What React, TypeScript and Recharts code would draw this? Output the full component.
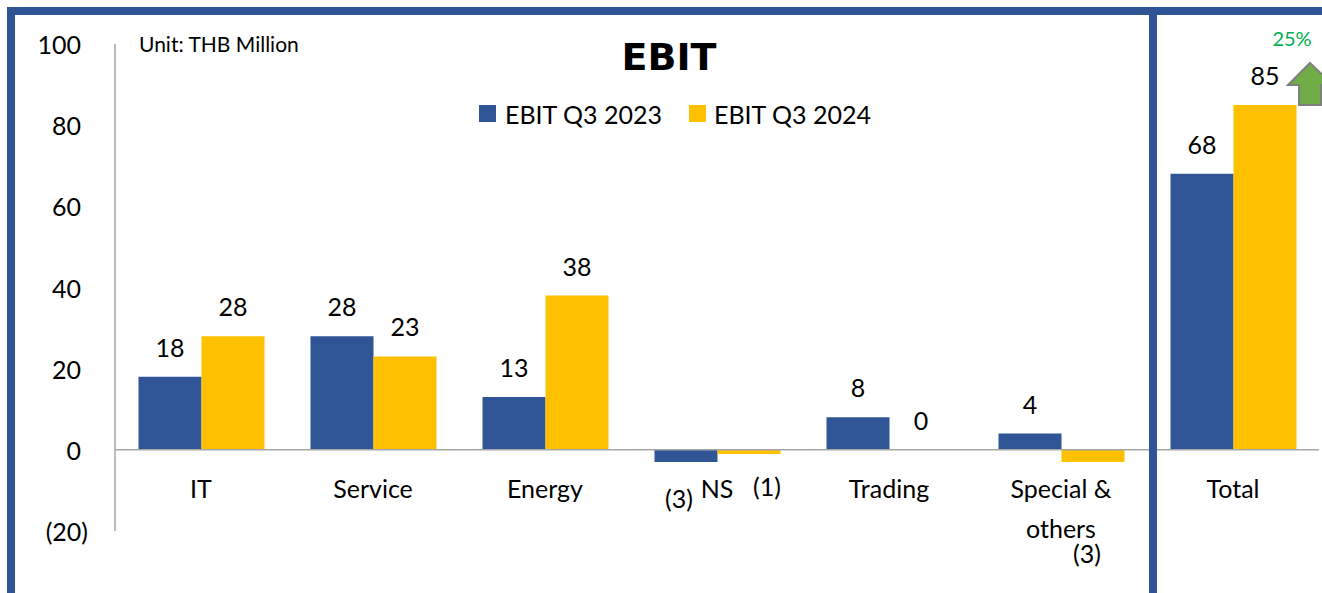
import React from 'react';
import { BarChart, Bar, XAxis, YAxis, LabelList, ReferenceLine } from 'recharts';

const categories = ['IT', 'Service', 'Energy', 'NS', 'Trading', 'Special & others', 'Total'];
const ebitQ32023 = [18, 28, 13, -3, 8, 4, 68];
const ebitQ32024 = [28, 23, 38, -1, 0, -3, 85];
const seriesNames = ['EBIT Q3 2023', 'EBIT Q3 2024'];
const yTicks = [-20, 0, 20, 40, 60, 80, 100];
const growthText = '25%';

const data = categories.map((category, i) => ({
  category,
  q2023: ebitQ32023[i],
  q2024: ebitQ32024[i],
}));

// layout
const W = 1322;
const H = 593;
const PLOT_TOP = 44;
const PLOT_BOTTOM = 531;
const PLOT_LEFT = 115;
const PLOT_RIGHT = 1319;
const Y_MIN = -20;
const Y_MAX = 100;
const ZERO_Y = PLOT_TOP + ((Y_MAX - 0) / (Y_MAX - Y_MIN)) * (PLOT_BOTTOM - PLOT_TOP);
const BAND = (PLOT_RIGHT - PLOT_LEFT) / categories.length;

const BLUE = '#2F5597';
const YELLOW = '#FFC000';
const FRAME = '#2F5597';
const GRID = '#A6A6A6';
const FONT = 'Lato, "Open Sans", sans-serif';

const fmt = (v: number) => (v < 0 ? `(${Math.abs(v)})` : `${v}`);

// hand-placed labels in the original slide
const labelNudge: Record<string, { dx: number; dy: number }> = {
  'q2023|NS': { dx: -7, dy: 36 },
  'q2024|NS': { dx: 18, dy: 32 },
  'q2024|Special & others': { dx: -6, dy: 91 },
};

const makeLabel = (key: string) => (props: any) => {
  const { x, y, width, height, value } = props;
  const top = Math.min(y, y + height);
  const bottom = Math.max(y, y + height);
  const cx = x + width / 2;
  const cat = categories[Math.floor((cx - PLOT_LEFT) / BAND)];
  let tx = cx;
  let ty = top - 30;
  if (value < 0) {
    const n = labelNudge[`${key}|${cat}`] ?? { dx: 0, dy: 32 };
    tx = cx + n.dx;
    ty = bottom + n.dy;
  }
  return (
    <text x={tx} y={ty} textAnchor="middle" dominantBaseline="central" fontFamily={FONT} fontSize={25} fill="#000">
      {fmt(value)}
    </text>
  );
};

const YTick = (props: any) => {
  const { y, payload } = props;
  const v = payload.value;
  return (
    <text x={v < 0 ? 88 : 81} y={y} textAnchor="end" dominantBaseline="central" fontFamily={FONT} fontSize={25} fill="#000">
      {fmt(v)}
    </text>
  );
};

const wrap = (s: string) => {
  const words = s.split(' ');
  const lines: string[] = [];
  let cur = '';
  words.forEach((w) => {
    if (cur && (cur + ' ' + w).length > 10) {
      lines.push(cur);
      cur = w;
    } else {
      cur = cur ? cur + ' ' + w : w;
    }
  });
  if (cur) lines.push(cur);
  return lines;
};

const XTick = (props: any) => {
  const { x, payload } = props;
  const lines = wrap(payload.value);
  return (
    <text x={x} y={ZERO_Y + 38} textAnchor="middle" dominantBaseline="central" fontFamily={FONT} fontSize={25} fill="#000">
      {lines.map((l, i) => (
        <tspan key={i} x={x} dy={i === 0 ? 0 : 40}>
          {l}
        </tspan>
      ))}
    </text>
  );
};

// keep zero-value bars (and their labels) in the chart
const tinyForZero = (v: number) => (v === 0 ? 0.1 : 0);

export default function App() {
  const sepX = PLOT_LEFT + BAND * 6 + 6;
  return (
    <div style={{ position: 'fixed', left: 0, top: 0, width: W, height: H, overflow: 'hidden', background: '#fff' }}>
      <BarChart
        width={W}
        height={H}
        data={data}
        margin={{ top: PLOT_TOP, right: W - PLOT_RIGHT, left: 0, bottom: 0 }}
        barCategoryGap={23.5}
        barGap={0}
      >
        <XAxis dataKey="category" height={H - PLOT_BOTTOM} axisLine={false} tickLine={false} tick={<XTick />} interval={0} />
        <YAxis
          width={PLOT_LEFT}
          domain={[Y_MIN, Y_MAX]}
          ticks={yTicks}
          axisLine={{ stroke: GRID, strokeWidth: 1.5 }}
          tickLine={false}
          tick={<YTick />}
          interval={0}
        />
        <ReferenceLine y={0} stroke={GRID} strokeWidth={1.5} />
        <Bar dataKey="q2023" name={seriesNames[0]} fill={BLUE} minPointSize={tinyForZero} isAnimationActive={false}>
          <LabelList dataKey="q2023" content={makeLabel('q2023')} />
        </Bar>
        <Bar dataKey="q2024" name={seriesNames[1]} fill={YELLOW} minPointSize={tinyForZero} isAnimationActive={false}>
          <LabelList dataKey="q2024" content={makeLabel('q2024')} />
        </Bar>
      </BarChart>

      <svg width={W} height={H} style={{ position: 'absolute', left: 0, top: 0, pointerEvents: 'none' }}>
        {/* frame */}
        <rect x={7} y={7} width={W - 7} height={8} fill={FRAME} />
        <rect x={7} y={7} width={8} height={H - 7} fill={FRAME} />
        <rect x={sepX - 4} y={7} width={8} height={H - 7} fill={FRAME} />

        <text x={139} y={43} dominantBaseline="central" fontFamily={FONT} fontSize={21} fill="#000">
          Unit: THB Million
        </text>
        <text
          x={669}
          y={57}
          textAnchor="middle"
          dominantBaseline="central"
          fontFamily='"DejaVu Sans", Verdana, sans-serif'
          fontWeight="bold"
          fontSize={38}
          fill="#000"
        >
          EBIT
        </text>

        {/* legend */}
        <rect x={479} y={105} width={17} height={17} fill={BLUE} />
        <text x={505} y={114} dominantBaseline="central" fontFamily={FONT} fontSize={25} fill="#000">
          {seriesNames[0]}
        </text>
        <rect x={689} y={105} width={17} height={17} fill={YELLOW} />
        <text x={714} y={114} dominantBaseline="central" fontFamily={FONT} fontSize={25} fill="#000">
          {seriesNames[1]}
        </text>

        {/* growth arrow */}
        <text x={1292} y={38} textAnchor="middle" dominantBaseline="central" fontFamily={FONT} fontSize={20} fill="#00B050">
          {growthText}
        </text>
        <path
          d="M1310 63 L1333 85 L1321 85 L1321 105 L1299 105 L1299 85 L1288 85 Z"
          fill="#70AD47"
          stroke="#7F7F7F"
          strokeWidth={2}
        />
      </svg>
    </div>
  );
}
